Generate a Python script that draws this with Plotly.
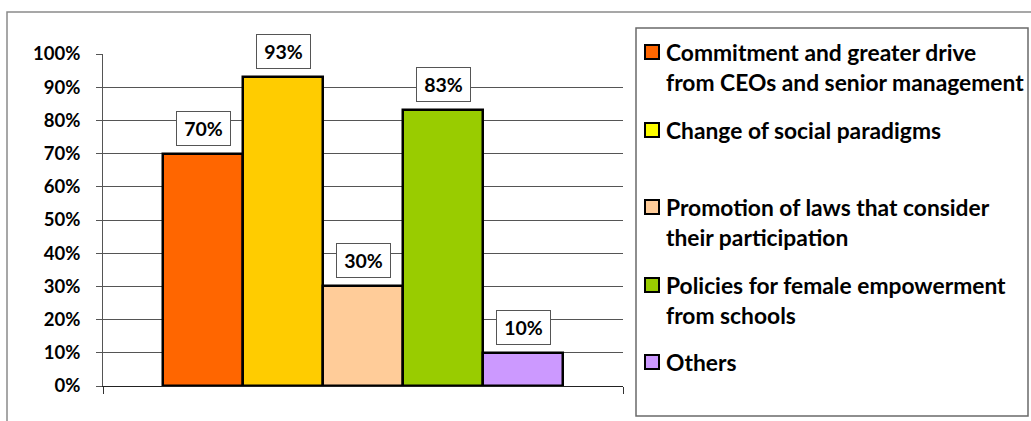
import plotly.graph_objects as go

# Survey results: share of respondents choosing each option (%)
labels = [
    "Commitment and greater drive<br>from CEOs and senior management",
    "Change of social paradigms",
    "Promotion of laws that consider<br>their participation",
    "Policies for female empowerment<br>from schools",
    "Others",
]
values = [70, 93, 30, 83, 10]
y_ticks = [0, 10, 20, 30, 40, 50, 60, 70, 80, 90, 100]
y_tick_text = [f"{t}%" for t in y_ticks]

bar_colors = ["#FF6600", "#FFCC00", "#FFCC99", "#99CC00", "#CC99FF"]
key_colors = ["#FF6600", "#FFFF00", "#FFCC99", "#99CC00", "#CC99FF"]

W, H = 1031, 421
L, R, T, B = 103, 623, 54, 386   # plot-area edges in pixels
FONT = "Lato"


def px(x):
    return (x - L) / (R - L)


def py(y):
    return (B - y) / (B - T)


fig = go.Figure()
for i, (name, v, c) in enumerate(zip(labels, values, bar_colors)):
    fig.add_trace(go.Bar(
        x=[i], y=[v], width=1, name=name.replace("<br>", " "),
        marker=dict(color=c, line=dict(color="black", width=2.5)),
        showlegend=False, hoverinfo="skip",
    ))
    fig.add_annotation(
        x=i, y=v, xref="x", yref="y", yanchor="bottom", yshift=8,
        text=f"{v}%", showarrow=False,
        font=dict(family=FONT, size=19.5, color="black", weight="bold"),
        bgcolor="white", bordercolor="#555555", borderwidth=1,
        width=53, height=33, borderpad=0,
    )

shapes = [
    # outer chart frame
    dict(type="rect", xref="paper", yref="paper",
         x0=px(7), x1=px(1045), y0=py(12), y1=py(440),
         line=dict(color="#8a8a8a", width=1.5), layer="below"),
    # key frame
    dict(type="rect", xref="paper", yref="paper",
         x0=px(636), x1=px(1028), y0=py(28), y1=py(416),
         line=dict(color="#6a6a6a", width=1.5)),
]

# key rows: vertical pixel centre of the first text line of each entry
row_y = [52, 130, 207, 285, 362]
line_step = 30
for name, c, yc in zip(labels, key_colors, row_y):
    shapes.append(dict(type="rect", xref="paper", yref="paper",
                       x0=px(645), x1=px(659), y0=py(yc - 7), y1=py(yc + 7),
                       fillcolor=c, line=dict(color="black", width=2)))
    for k, part in enumerate(name.split("<br>")):
        fig.add_annotation(
            x=px(664), y=py(yc + k * line_step), xref="paper", yref="paper",
            xanchor="left", yanchor="middle", text=part, showarrow=False,
            font=dict(family=FONT, size=22.8, color="black", weight="bold"),
        )

fig.update_layout(
    width=W, height=H,
    margin=dict(l=L, r=W - R, t=T, b=H - B, pad=0),
    paper_bgcolor="white", plot_bgcolor="white",
    bargap=0, barmode="overlay",
    shapes=shapes,
    xaxis=dict(range=[-1.25, 5.25], tickvals=[-1.25, 5.25], ticktext=["", ""],
               ticks="outside", ticklen=7, tickcolor="#333333", tickwidth=1,
               showline=True, linecolor="#222222", linewidth=1,
               showgrid=False, zeroline=False, fixedrange=True),
    yaxis=dict(range=[0, 100], tickvals=y_ticks, ticktext=y_tick_text,
               ticks="outside", ticklen=6, tickcolor="#555555", tickwidth=1,
               showline=True, linecolor="#555555", linewidth=1,
               showgrid=True, gridcolor="#555555", gridwidth=1,
               zeroline=False, ticklabelstandoff=12,
               tickfont=dict(family=FONT, size=18.5, color="black", weight="bold")),
)

fig.write_html("out.html", config={"displayModeBar": False})
